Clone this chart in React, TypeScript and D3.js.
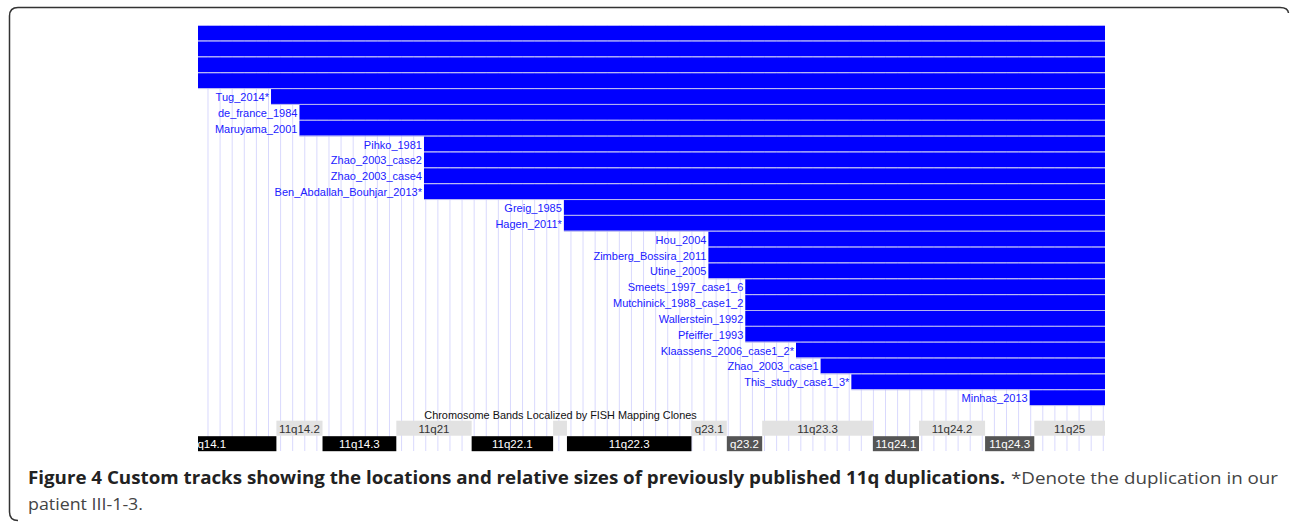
import React from 'react';
import * as d3 from 'd3';

// duplication tracks, top to bottom (first four rows are unlabelled)
const caseNames = [
  '', '', '', '',
  'Tug_2014*', 'de_france_1984', 'Maruyama_2001',
  'Pihko_1981', 'Zhao_2003_case2', 'Zhao_2003_case4', 'Ben_Abdallah_Bouhjar_2013*',
  'Greig_1985', 'Hagen_2011*',
  'Hou_2004', 'Zimberg_Bossira_2011', 'Utine_2005',
  'Smeets_1997_case1_6', 'Mutchinick_1988_case1_2', 'Wallerstein_1992', 'Pfeiffer_1993',
  'Klaassens_2006_case1_2*', 'Zhao_2003_case1', 'This_study_case1_3*', 'Minhas_2013',
];
// start / end of each duplication (Mb)
const dupStart = [
  76.0, 76.0, 76.0, 76.0,
  80.75, 82.6, 82.6,
  90.7, 90.7, 90.7, 90.7,
  99.8, 99.8,
  109.2, 109.2, 109.2,
  111.6, 111.6, 111.6, 111.6,
  114.9, 116.5, 118.5, 130.1,
];
const dupEnd = caseNames.map(() => 135.0);

// chromosome bands
const bandLabels = ['q14.1', '11q14.2', '11q14.3', '11q21', '11q22.1', '', '11q22.3', 'q23.1', 'q23.2', '11q23.3', '11q24.1', '11q24.2', '11q24.3', '11q25'];
const bandStart = [72.7, 81.1, 84.1, 88.9, 93.8, 99.1, 100.0, 108.1, 110.4, 112.7, 119.9, 122.9, 127.2, 130.4];
const bandEnd = [81.1, 84.1, 88.9, 93.8, 99.1, 100.0, 108.1, 110.4, 112.7, 119.9, 122.9, 127.2, 130.4, 135.0];
const bandStain = ['gpos100', 'gneg', 'gpos100', 'gneg', 'gpos100', 'gneg', 'gpos100', 'gneg', 'gpos75', 'gneg', 'gpos75', 'gneg', 'gpos75', 'gneg'];

const regionStart = 76.0;
const regionEnd = 135.0;
const gridStart = 76.65;
const gridStep = 0.787;

const W = 1290;
const H = 522;

const stainFill: Record<string, string> = { gpos100: '#000000', gpos75: '#555555', gneg: '#e2e2e2' };
const stainText: Record<string, string> = { gpos100: '#ffffff', gpos75: '#ffffff', gneg: '#333333' };

export default function App() {
  const x = d3.scaleLinear().domain([regionStart, regionEnd]).range([198, 1105]);
  const y = d3.scaleBand<number>().domain(d3.range(caseNames.length)).range([25.7, 406.1]).paddingInner(0);
  const rowH = y.bandwidth();
  const gridLines = d3.range(gridStart, regionEnd, gridStep);

  const lightTop = 420.7;
  const darkTop = 436.2;
  const bandH = 15;

  return (
    <svg width={W} height={H} style={{ position: 'absolute', left: 0, top: 0 }} fontFamily="'Liberation Sans', Arial, sans-serif">
      <rect width={W} height={H} fill="#fff" />
      <defs>
        <clipPath id="trk">
          <rect x={x(regionStart)} y={0} width={x(regionEnd) - x(regionStart)} height={H} />
        </clipPath>
      </defs>

      {/* grid */}
      <g>
        {gridLines.map((g, i) => (
          <line key={i} x1={x(g)} x2={x(g)} y1={25.7} y2={451} stroke="#d9d9fd" strokeWidth={1} />
        ))}
      </g>

      {/* duplication tracks */}
      <g>
        {caseNames.map((name, i) => (
          <g key={i}>
            <rect x={x(dupStart[i])} y={y(i)!} width={x(dupEnd[i]) - x(dupStart[i])} height={rowH - 1} fill="#0000ff" />
            <line x1={x(dupStart[i])} x2={x(dupEnd[i])} y1={y(i)! + rowH - 0.5} y2={y(i)! + rowH - 0.5} stroke="#b4b4f0" strokeWidth={1} />
            {name && (
              <text x={x(dupStart[i]) - 2} y={y(i)! + rowH / 2 + 4} textAnchor="end" fontSize={11} fill="#2020ff">
                {name}
              </text>
            )}
          </g>
        ))}
      </g>

      {/* chromosome bands */}
      <text x={560.5} y={418.5} textAnchor="middle" fontSize={10.9} fill="#111">
        Chromosome Bands Localized by FISH Mapping Clones
      </text>
      <g clipPath="url(#trk)">
        {bandLabels.map((lab, i) => {
          const top = bandStain[i] === 'gneg' ? lightTop : darkTop;
          const x0 = x(bandStart[i]);
          const x1 = x(bandEnd[i]);
          return (
            <g key={i}>
              <rect x={x0} y={top} width={x1 - x0} height={bandH} fill={stainFill[bandStain[i]]} />
              <text x={(x0 + x1) / 2} y={top + 11.8} textAnchor="middle" fontSize={11.5} fill={stainText[bandStain[i]]}>
                {lab}
              </text>
            </g>
          );
        })}
      </g>

      {/* figure frame */}
      <path d="M 18 520.5 Q 9.5 520.5 9.5 512 L 9.5 16 Q 9.5 7.5 18 7.5 L 1280 7.5 Q 1288 7.5 1288.5 13" fill="none" stroke="#333" strokeWidth={1.5} />

      {/* caption */}
      <g fontFamily="'Open Sans', sans-serif" fontSize={17}>
        <text x={28} y={484} fontWeight="bold" fill="#222" textLength={977} lengthAdjust="spacingAndGlyphs">
          Figure 4 Custom tracks showing the locations and relative sizes of previously published 11q duplications.
        </text>
        <text x={1011} y={484} fill="#444" textLength={267} lengthAdjust="spacingAndGlyphs">
          *Denote the duplication in our
        </text>
        <text x={28} y={510} fill="#444" textLength={115} lengthAdjust="spacingAndGlyphs">
          patient III-1-3.
        </text>
      </g>
    </svg>
  );
}
